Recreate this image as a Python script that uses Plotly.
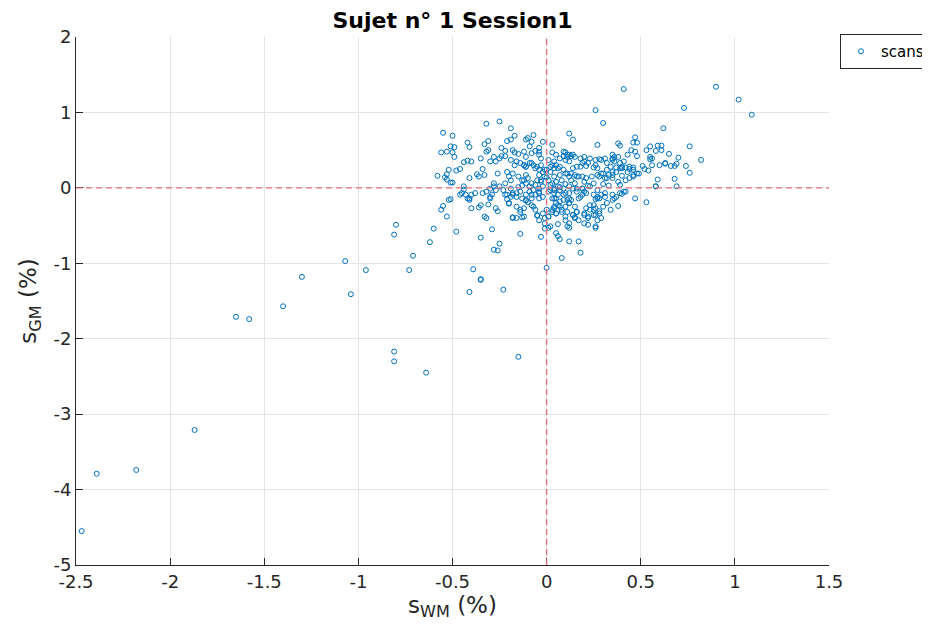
import plotly.graph_objects as go

# ---- data ----
outlier_x = [-2.47, -2.39, -2.18, -1.87, -1.65, -1.58, -1.40, -1.30, -1.07, -1.04, -0.96,
             -0.81, -0.81, -0.73, -0.71, -0.64, -0.62, -0.81, -0.80, -0.55,
             -0.41, -0.23, -0.35, -0.15]
outlier_y = [-4.55, -3.79, -3.74, -3.21, -1.71, -1.74, -1.57, -1.18, -0.97, -1.41, -1.09,
             -2.17, -2.30, -1.09, -0.90, -2.45, -0.72, -0.62, -0.49, -0.24,
             -1.38, -1.35, -1.22, -2.24]

upleft_x = [-0.32, -0.25, -0.19, -0.55, -0.50, -0.42, -0.41, -0.33, -0.31, -0.31, -0.32, -0.56, -0.53,
            -0.50, -0.49, -0.51, -0.49, -0.21, -0.19, -0.17, -0.11, -0.10, -0.08, -0.07, -0.02, -0.04,
            -0.04, -0.24, -0.22, -0.24, -0.22, -0.28, -0.30, -0.35, -0.18, -0.17, -0.15, -0.12, -0.11,
            -0.08, -0.06, -0.04, -0.03, -0.44, -0.42, -0.40, -0.46, -0.48, -0.52, -0.53, -0.58, -0.53,
            -0.51, -0.54, -0.41, -0.37, -0.36, -0.34, -0.33, -0.44, -0.28, -0.26, -0.21, -0.20, -0.19,
            -0.22, -0.18, -0.15, -0.13, -0.11, -0.10, -0.08, -0.05, -0.04, -0.03, -0.01, -0.25, -0.27,
            -0.19, -0.17, -0.14, -0.11, -0.08, -0.06, -0.03, -0.01, -0.09, -0.50, -0.12, -0.16]
upleft_y = [0.85, 0.88, 0.79, 0.73, 0.69, 0.60, 0.54, 0.58, 0.62, 0.50, 0.48, 0.47, 0.48,
            0.47, 0.54, 0.55, 0.41, 0.62, 0.64, 0.69, 0.64, 0.66, 0.61, 0.70, 0.61, 0.53,
            0.48, 0.53, 0.49, 0.42, 0.42, 0.41, 0.35, 0.39, 0.50, 0.47, 0.45, 0.48, 0.41,
            0.46, 0.49, 0.44, 0.39, 0.34, 0.36, 0.35, 0.25, 0.23, 0.24, 0.18, 0.16, 0.11,
            0.07, 0.14, 0.13, 0.18, 0.15, 0.25, 0.17, 0.02, 0.06, 0.19, 0.21, 0.15, 0.10,
            0.06, 0.19, 0.15, 0.10, 0.17, 0.13, 0.06, 0.10, 0.17, 0.10, 0.15, 0.39, 0.35,
            0.37, 0.30, 0.33, 0.28, 0.33, 0.26, 0.30, 0.24, 0.55, 0.07, 0.30, 0.35]

core_x = [-0.12, -0.11, -0.09, -0.07, -0.06, -0.04, -0.04, -0.03, 0.00, 0.01, 0.03, 0.04, 0.04,
          0.05, 0.07, 0.09, 0.11, 0.12, 0.14, 0.16, 0.18, 0.19, 0.21, 0.23, 0.25, 0.27, -0.06,
          -0.08, -0.11, -0.14, -0.16, -0.18, -0.19, -0.21, -0.23, -0.25, -0.27, -0.28, -0.30, -0.32,
          0.05, 0.10, 0.15, 0.20, 0.25, 0.30, 0.33, 0.22, 0.12, 0.07, -0.45, -0.43, -0.41, -0.40,
          -0.51, -0.02, -0.13, -0.09, 0.02, 0.06, -0.15]
core_y = [0.10, 0.06, 0.02, -0.03, 0.04, -0.01, -0.07, 0.08, 0.14, 0.10, 0.06, -0.01, -0.07,
          -0.14, -0.03, -0.09, -0.16, -0.07, -0.01, -0.05, -0.12, -0.01, -0.07, 0.02, -0.09, -0.03, -0.09,
          -0.14, -0.09, -0.05, -0.12, -0.07, -0.01, -0.09, -0.03, 0.02, -0.03, 0.02, -0.01, -0.05,
          0.08, 0.05, 0.06, 0.08, 0.06, 0.05, 0.03, 0.03, 0.02, 0.01, -0.07, -0.09, -0.14, -0.09,
          -0.15, 0.02, 0.03, -0.05, 0.04, 0.02, 0.01]

upright_x = [0.05, 0.07, 0.09, 0.11, 0.12, 0.14, 0.10, 0.12, 0.04, 0.05, 0.07, 0.02, 0.00, -0.02,
             -0.04, -0.05, -0.07, -0.09, -0.11, -0.12, 0.09, 0.11, 0.13, 0.16, 0.19, 0.21, 0.24,
             0.27, 0.29, 0.32, 0.35, 0.37, 0.40, 0.18, 0.20, 0.23, 0.26, 0.29, 0.32, 0.35, 0.38,
             0.41, 0.43, 0.38, 0.39, 0.47, 0.46, 0.48, 0.45, 0.47, 0.48, 0.53, 0.55, 0.59, 0.61,
             0.61, 0.58, 0.10, 0.09, 0.11, 0.13, 0.15, 0.18, 0.20, 0.22, 0.19, 0.21, 0.28, 0.31,
             0.26, 0.27, 0.25, 0.35, 0.36, 0.39, 0.40, 0.42, 0.44, 0.46, 0.43, 0.46, 0.48, 0.51,
             0.52, 0.54, 0.56, 0.55, 0.56, 0.60, 0.63, 0.59, 0.55, 0.58, 0.49, 0.46, 0.44, 0.42,
             0.40, 0.44, 0.46, 0.36, 0.35, 0.34, 0.32, 0.30, 0.28, 0.39, 0.37, 0.35, 0.33, 0.31,
             0.35, 0.38, 0.39, 0.01, 0.03, 0.04, 0.06, 0.02, 0.04, 0.07, 0.08, 0.10, 0.12, 0.13,
             0.15, 0.17, 0.14, 0.16, 0.41, 0.26, 0.30, 0.12, 0.14, 0.62, 0.03, 0.03, 0.27, 0.90,
             1.02, 1.09, 0.73, 0.76, 0.65, 0.70, 0.69, 0.68, 0.66, 0.63, 0.82, 0.74, 0.76, 0.68,
             0.69]
upright_y = [0.44, 0.39, 0.48, 0.44, 0.44, 0.44, 0.37, 0.35, 0.26, 0.30, 0.28, 0.28, 0.24, 0.21,
             0.24, 0.28, 0.30, 0.33, 0.28, 0.30, 0.24, 0.19, 0.19, 0.15, 0.15, 0.13, 0.15,
             0.17, 0.19, 0.13, 0.17, 0.21, 0.26, 0.28, 0.35, 0.39, 0.37, 0.37, 0.33, 0.39, 0.41,
             0.35, 0.44, 0.59, 0.56, 0.67, 0.60, 0.60, 0.50, 0.48, 0.42, 0.50, 0.55, 0.56, 0.56,
             0.50, 0.49, 0.47, 0.42, 0.41, 0.42, 0.41, 0.39, 0.41, 0.33, 0.33, 0.29, 0.38, 0.39,
             0.30, 0.26, 0.27, 0.44, 0.35, 0.33, 0.28, 0.27, 0.28, 0.24, 0.21, 0.17, 0.19, 0.29,
             0.25, 0.23, 0.30, 0.41, 0.39, 0.30, 0.32, 0.11, 0.38, 0.02, 0.19, 0.15, 0.13, 0.10,
             0.16, 0.25, 0.27, 0.41, 0.37, 0.28, 0.24, 0.19, 0.15, 0.26, 0.27, 0.21, 0.17, 0.13,
             0.13, 0.08, 0.04, 0.37, 0.30, 0.35, 0.26, 0.21, 0.15, 0.17, 0.10, 0.19, 0.15, 0.10,
             0.17, 0.15, 0.26, 0.28, 1.31, 1.03, 0.86, 0.72, 0.64, 0.79, 0.57, 0.47, 0.57, 1.34,
             1.17, 0.97, 1.06, 0.55, 0.45, 0.40, 0.32, 0.29, 0.29, 0.33, 0.37, 0.29, 0.20, 0.12,
             0.02]

lowright_x = [0.02, 0.04, 0.05, 0.07, 0.04, 0.03, 0.01, 0.05, 0.08, 0.10, 0.12, 0.13, 0.15, 0.16,
              0.14, 0.15, 0.17, 0.20, 0.21, 0.23, 0.25, 0.26, 0.27, 0.28, 0.30, 0.32, 0.34, 0.35,
              0.37, 0.39, 0.41, 0.31, 0.29, 0.27, 0.05, 0.11, 0.10, 0.12, 0.20, 0.22, 0.08, 0.18,
              0.17, 0.12, 0.07, 0.06, 0.12, 0.06, 0.01, 0.26, 0.26, 0.22, 0.29, 0.25, 0.22, 0.20,
              0.15, 0.14, 0.16, 0.10, 0.11, 0.23, 0.26, 0.28, 0.25, 0.38, 0.47, 0.53, 0.58, 0.40,
              0.42, 0.35, 0.36, 0.31, 0.27, 0.28, 0.26, 0.03, 0.04, 0.06, 0.01, 0.00, 0.03, 0.06,
              0.10, 0.12, 0.12, 0.17, 0.19, 0.20, 0.16, 0.19, 0.09, 0.04, 0.01, 0.07, 0.09, 0.05,
              0.08]
lowright_y = [-0.03, -0.14, -0.20, -0.25, -0.27, -0.32, -0.38, -0.34, -0.32, -0.25, -0.20, -0.16, -0.25, -0.32,
              -0.36, -0.39, -0.43, -0.34, -0.27, -0.23, -0.29, -0.36, -0.43, -0.34, -0.25, -0.20, -0.29, -0.16,
              -0.12, -0.07, -0.05, -0.12, -0.09, -0.14, -0.60, -0.51, -0.43, -0.47, -0.47, -0.38, -0.93, -0.86,
              -0.71, -0.71, -0.68, -0.64, -0.53, -0.48, -0.53, -0.53, -0.51, -0.49, -0.40, -0.36, -0.40, -0.36,
              -0.40, -0.36, -0.32, -0.38, -0.32, -0.29, -0.27, -0.31, -0.23, -0.24, -0.14, -0.19, 0.02, -0.08,
              -0.05, -0.09, -0.14, -0.07, -0.12, -0.14, -0.15, -0.29, -0.25, -0.23, -0.38, -0.29, -0.14, -0.09,
              -0.07, -0.14, -0.20, -0.14, -0.09, -0.05, -0.01, -0.01, -0.01, -0.03, -0.05, -0.18, -0.16, -0.34,
              -0.29]

lowleft_x = [-0.52, -0.56, -0.53, -0.60, -0.48, -0.35, -0.29, -0.32, -0.25, -0.28, -0.26, -0.14, -0.39,
             -0.35, 0.00, -0.40, -0.35, -0.36, -0.31, -0.27, -0.26, -0.18, -0.16, -0.13, -0.20, -0.14,
             -0.12, -0.10, -0.07, -0.05, -0.02, -0.01, -0.01, -0.46, -0.42, -0.41, -0.44, -0.38, -0.34,
             -0.30, -0.29, -0.22, -0.21, -0.18, -0.16, -0.13, -0.11, -0.08, -0.04, -0.04, -0.02, -0.33,
             -0.20, -0.19, -0.16, -0.14, -0.12, -0.18, -0.11, -0.08, -0.06, -0.05, -0.04, -0.01, -0.03,
             0.02, -0.30]
lowleft_y = [-0.16, -0.29, -0.38, -0.54, -0.58, -0.66, -0.55, -0.40, -0.74, -0.82, -0.83, -0.61, -1.08,
             -1.21, -1.06, -0.27, -0.23, -0.26, -0.22, -0.27, -0.31, -0.40, -0.40, -0.39, -0.21, -0.29,
             -0.27, -0.19, -0.25, -0.37, -0.34, -0.40, -0.47, -0.09, -0.14, -0.16, -0.02, -0.07, -0.07,
             -0.14, -0.09, -0.09, -0.15, -0.09, -0.07, -0.14, -0.17, -0.09, -0.05, -0.14, -0.12, -0.38,
             -0.20, -0.12, -0.25, -0.32, -0.38, -0.39, -0.16, -0.23, -0.29, -0.36, -0.43, -0.54, -0.65,
             -0.51, -0.12]

x_ticks = [-2.5, -2, -1.5, -1, -0.5, 0, 0.5, 1, 1.5]
x_tick_labels = ["-2.5", "-2", "-1.5", "-1", "-0.5", "0", "0.5", "1", "1.5"]
y_ticks = [-5, -4, -3, -2, -1, 0, 1, 2]
y_tick_labels = ["-5", "-4", "-3", "-2", "-1", "0", "1", "2"]

sWM = outlier_x + upleft_x + core_x + upright_x + lowright_x + lowleft_x
sGM = outlier_y + upleft_y + core_y + upright_y + lowright_y + lowleft_y

blue = "#0072BD"
red = "#E8707A"
font = "DejaVu Sans"

# the page body adds an 8px offset; compensate so the plot lands where the reference has it
OFF = 8
W, H = 930, 633
plot_l, plot_r, plot_t, plot_b = 76, 829, 37, 565

fig = go.Figure()
fig.add_trace(go.Scatter(
    x=sWM, y=sGM, mode="markers", name="scans",
    marker=dict(symbol="circle-open", size=5, color=blue, line=dict(width=1, color=blue)),
))

fig.add_shape(type="line", xref="x", yref="paper", x0=0, x1=0, y0=0, y1=1,
              line=dict(color=red, width=1.4, dash="6px,4px"), layer="above")
fig.add_shape(type="line", xref="paper", yref="y", x0=0, x1=1, y0=0, y1=0,
              line=dict(color=red, width=1.4, dash="6px,4px"), layer="above")

axis_common = dict(
    showgrid=True, gridcolor="#E5E5E5", gridwidth=1, zeroline=False,
    showline=True, linecolor="#262626", linewidth=1,
    ticks="inside", ticklen=7, tickcolor="#262626",
    tickfont=dict(family=font, size=18, color="#262626"),
    mirror=False, automargin=False,
)

fig.update_layout(
    width=W, height=H,
    margin=dict(l=plot_l - OFF, r=W - (plot_r - OFF), t=plot_t - OFF, b=H - (plot_b - OFF),
                autoexpand=False),
    paper_bgcolor="white", plot_bgcolor="white",
    font=dict(family=font, color="#262626"),
    title=dict(text="<b>Sujet n° 1 Session1</b>", x=((plot_l + plot_r) / 2 - OFF) / W,
               xanchor="center", xref="container", yref="container",
               y=1 - (20 - OFF) / H, yanchor="middle",
               font=dict(family=font, size=22, color="black")),
    xaxis=dict(range=[-2.5, 1.5], tickvals=x_ticks, ticktext=x_tick_labels,
               title=dict(text="s<sub>WM</sub> (%)", font=dict(family=font, size=23, color="#262626"),
                          standoff=0),
               **axis_common),
    yaxis=dict(range=[-5, 2], tickvals=y_ticks, ticktext=y_tick_labels,
               title=dict(text="s<sub>GM</sub> (%)", font=dict(family=font, size=23, color="#262626"),
                          standoff=10),
               **axis_common),
    showlegend=True,
    legend=dict(xref="container", yref="container", x=(840 - OFF) / W, y=1 - (34 - OFF) / H,
                xanchor="left", yanchor="top",
                bordercolor="#262626", borderwidth=1, bgcolor="white",
                font=dict(family=font, size=15, color="black"),
                itemwidth=30, tracegroupgap=0),
)

fig.write_html("out.html")
